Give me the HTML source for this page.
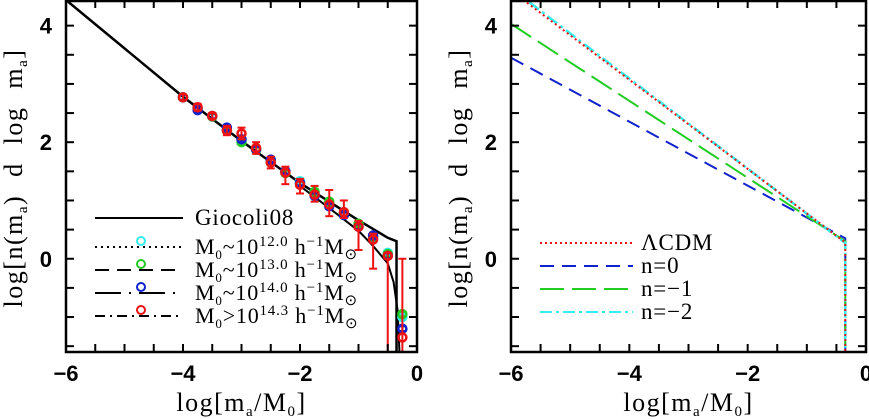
<!DOCTYPE html>
<html><head><meta charset="utf-8">
<style>
body{margin:0;background:#fff;width:869px;height:419px;overflow:hidden}
svg{display:block;font-family:"Liberation Serif",serif}
.tl{font-family:"Liberation Sans",sans-serif;font-size:22px;font-weight:bold}
</style></head>
<body>
<svg id="c" width="869" height="419"></svg>
<script>
// ---- data ----
const gioX = [-6,-5,-4,-3,-2,-1.5,-1,-0.5,-0.35,-0.35];
const gioY = [4.44,3.61,2.78,2.02,1.3,0.98,0.66,0.36,0.3,-1.6];
const fitX = [-2,-1.5,-1,-0.75,-0.5,-0.4,-0.33,-0.3];
const fitY = [1.25,0.87,0.48,0.22,-0.08,-0.4,-0.9,-1.6];
const ptX = [-4,-3.75,-3.5,-3.25,-3,-2.75,-2.5,-2.25,-2,-1.75,-1.5,-1.25,-1,-0.75,-0.5,-0.25];
const redY = [2.77,2.6,2.45,2.2,2.15,1.9,1.65,1.48,1.27,1.1,0.93,0.8,0.55,0.33,0.05,-1.35];
const redErrUp = [0.05,0.06,0.05,0.08,0.1,0.1,0.1,0.1,0.1,0.15,0.25,0.2,0.1,0.1,0.05,1.35];
const redErrDn = [0.05,0.06,0.05,0.08,0.1,0.1,0.1,0.2,0.15,0.12,0.2,0.1,0.4,0.5,1.7,0.3];
const blueY = [2.77,2.55,2.45,2.25,2.05,1.88,1.7,1.5,1.3,1.08,0.9,0.75,0.55,0.4,0.05,-1.2];
const greenY = [2.77,2.58,2.44,2.2,2.0,1.87,1.66,1.47,1.3,1.15,0.98,0.77,0.6,0.38,0.08,-0.95];
const cyanY = [2.77,2.58,2.44,2.2,2.03,1.88,1.68,1.5,1.33,1.12,0.95,0.78,0.58,0.36,0.1,-1.0];
const rX = [-6,-0.35,-0.35];
const lcdmY = [4.6,0.28,-1.6];
const n0Y = [3.45,0.35,-1.6];
const n1Y = [4.03,0.3,-1.6];
const n2Y = [4.64,0.27,-1.6];
const xTicks = ["\u22126","\u22124","\u22122","0"];
const yTicks = ["0","2","4"];

const NS="http://www.w3.org/2000/svg";
const svg=document.getElementById('c');
function el(t,a,p){const e=document.createElementNS(NS,t);for(const k in a)e.setAttribute(k,a[k]);(p||svg).appendChild(e);return e;}
function panel(x0,x1,name){
  const y0=0,y1=352;
  const sx=v=>x0+(v+6)/6*(x1-x0);
  const sy=v=>y0+(4.44-v)/(4.44+1.6)*(y1-y0);
  const g=el('g',{});
  
  
  const clipId=name+'-clip';
  const cp=el('clipPath',{id:clipId},g);el('rect',{x:x0,y:y0,width:x1-x0,height:y1-y0},cp);
  const plot=el('g',{'clip-path':'url(#'+clipId+')'},g);
  const fr=el('rect',{x:x0,y:y0+1,width:x1-x0,height:y1-y0-1,fill:'none',stroke:'#000','stroke-width':2.5},g);
  
  for(let v=-6;v<=0.01;v+=0.5){const X=sx(v);el('line',{x1:X,x2:X,y1:y1,y2:y1-8,stroke:'#000','stroke-width':2},g);el('line',{x1:X,x2:X,y1:y0,y2:y0+8,stroke:'#000','stroke-width':2},g);}
  for(let v=-1.5;v<=4.4;v+=0.5){const Y=sy(v);el('line',{x1:x0,x2:x0+8,y1:Y,y2:Y,stroke:'#000','stroke-width':2},g);el('line',{x1:x1,x2:x1-8,y1:Y,y2:Y,stroke:'#000','stroke-width':2},g);}
  xTicks.forEach((t,i)=>{const e=el('text',{x:sx(-6+2*i),y:381,'text-anchor':'middle',class:'tl'},g);e.textContent=t;});
  yTicks.forEach((t,i)=>{const e=el('text',{x:x0-14,y:sy(2*i)+8,'text-anchor':'end',class:'tl'},g);e.textContent=t;});
  const xt=el('text',{x:(x0+x1)/2,y:411,'text-anchor':'middle','font-size':26,'letter-spacing':1.5},g);
  xt.innerHTML='log[m<tspan font-size="15" dy="5">a</tspan><tspan dy="-5">/M</tspan><tspan font-size="15" dy="5">0</tspan><tspan dy="-5">]</tspan>';
  
  const yt=el('text',{x:0,y:0,'text-anchor':'middle','font-size':26,'letter-spacing':1.5,'word-spacing':10,transform:`translate(${x0-44},178) rotate(-90)`},g);
  yt.innerHTML='log[n(m<tspan font-size="15" dy="5">a</tspan><tspan dy="-5">) d log m</tspan><tspan font-size="15" dy="5">a</tspan><tspan dy="-5">]</tspan>';
  
  return {g,plot,sx,sy};
}
function line(p,xs,ys,color,dash,w,name){
  const d=xs.map((x,i)=>(i?'L':'M')+p.sx(x)+','+p.sy(ys[i])).join('');
  const e=el('path',{d,fill:'none',stroke:color,'stroke-width':w||2,'stroke-dasharray':dash||'none'},p.plot);
  
}
function points(p,ys,color,up,dn,name){
  ys.forEach((v,i)=>{
    const X=p.sx(ptX[i]),Y=p.sy(v),eu=up?up[i]:0.04,ed=dn?dn[i]:0.04;
    el('line',{x1:X,x2:X,y1:p.sy(v+eu),y2:p.sy(v-ed),stroke:color,'stroke-width':2},p.plot);
    el('line',{x1:X-4,x2:X+4,y1:p.sy(v+eu),y2:p.sy(v+eu),stroke:color,'stroke-width':2},p.plot);
    el('line',{x1:X-4,x2:X+4,y1:p.sy(v-ed),y2:p.sy(v-ed),stroke:color,'stroke-width':2},p.plot);
    const c=el('circle',{cx:X,cy:Y,r:4,fill:'none',stroke:color,'stroke-width':2.5},p.plot);
    
  });
}
function legend(g,x1,x2,y,dash,color,label,circ,tx,fs){
  const e=el('line',{x1,x2,y1:y,y2:y,stroke:color,'stroke-width':2,'stroke-dasharray':dash||'none'},g);
  
  if(circ){el('circle',{cx:141,cy:y-6,r:4,fill:'#fff',stroke:circ,'stroke-width':2},g);}
  const t=el('text',{x:tx,y:y+7,'font-size':fs||22,'letter-spacing':0.8},g);t.innerHTML=label;
  
}
// left
const L=panel(66,417,'left-panel');
line(L,gioX,gioY,'#000',null,2.5,'giocoli08-line');
line(L,fitX,fitY,'#000',null,2,'fit-line');
points(L,cyanY,'#3ee',null,null,'points-m12');
points(L,greenY,'#2c2',null,null,'points-m13');
points(L,blueY,'#12c',null,null,'points-m14');
points(L,redY,'#e11',redErrUp,redErrDn,'points-m143');
const mt=(s,n)=>`M<tspan font-size="13" dy="5">0</tspan><tspan dy="-5">${s}10</tspan><tspan font-size="15" dy="-8">${n}</tspan><tspan dy="8">  h</tspan><tspan font-size="15" dy="-8">\u22121</tspan><tspan dy="8">M</tspan><tspan font-size="15" dy="5">\u2299</tspan>`;
legend(L.g,95,183,218,null,'#000','Giocoli08',null,195,23);
legend(L.g,95,183,247,'2 4','#000',mt('~','12.0'),'#3ee',195);
legend(L.g,95,183,270,'14 8','#000',mt('~','13.0'),'#2c2',195);
legend(L.g,95,183,293,'26 8 2 8','#000',mt('~','14.0'),'#12c',195);
legend(L.g,95,183,316,'10 5 2 5','#000',mt('>','14.3'),'#e11',195);
// right
const R=panel(511,866,'right-panel');
line(R,rX,n0Y,'#12c','14 8',2,'n0-line');
line(R,rX,n1Y,'#2c2','24 8',2,'n-1-line');
line(R,rX,n2Y,'#3ee','12 4 3 4',2.5,'n-2-line');
line(R,rX,lcdmY,'#e11','2 3',2,'lcdm-line');
legend(R.g,540,633,243,'2 3','#e11','\u039bCDM',null,641,23);
legend(R.g,540,633,266,'14 8','#12c','n=0',null,641,23);
legend(R.g,540,633,289,'24 8','#2c2','n=\u22121',null,641,23);
legend(R.g,540,633,312,'12 4 3 4','#3ee','n=\u22122',null,641,23);
</script>
</body></html>
